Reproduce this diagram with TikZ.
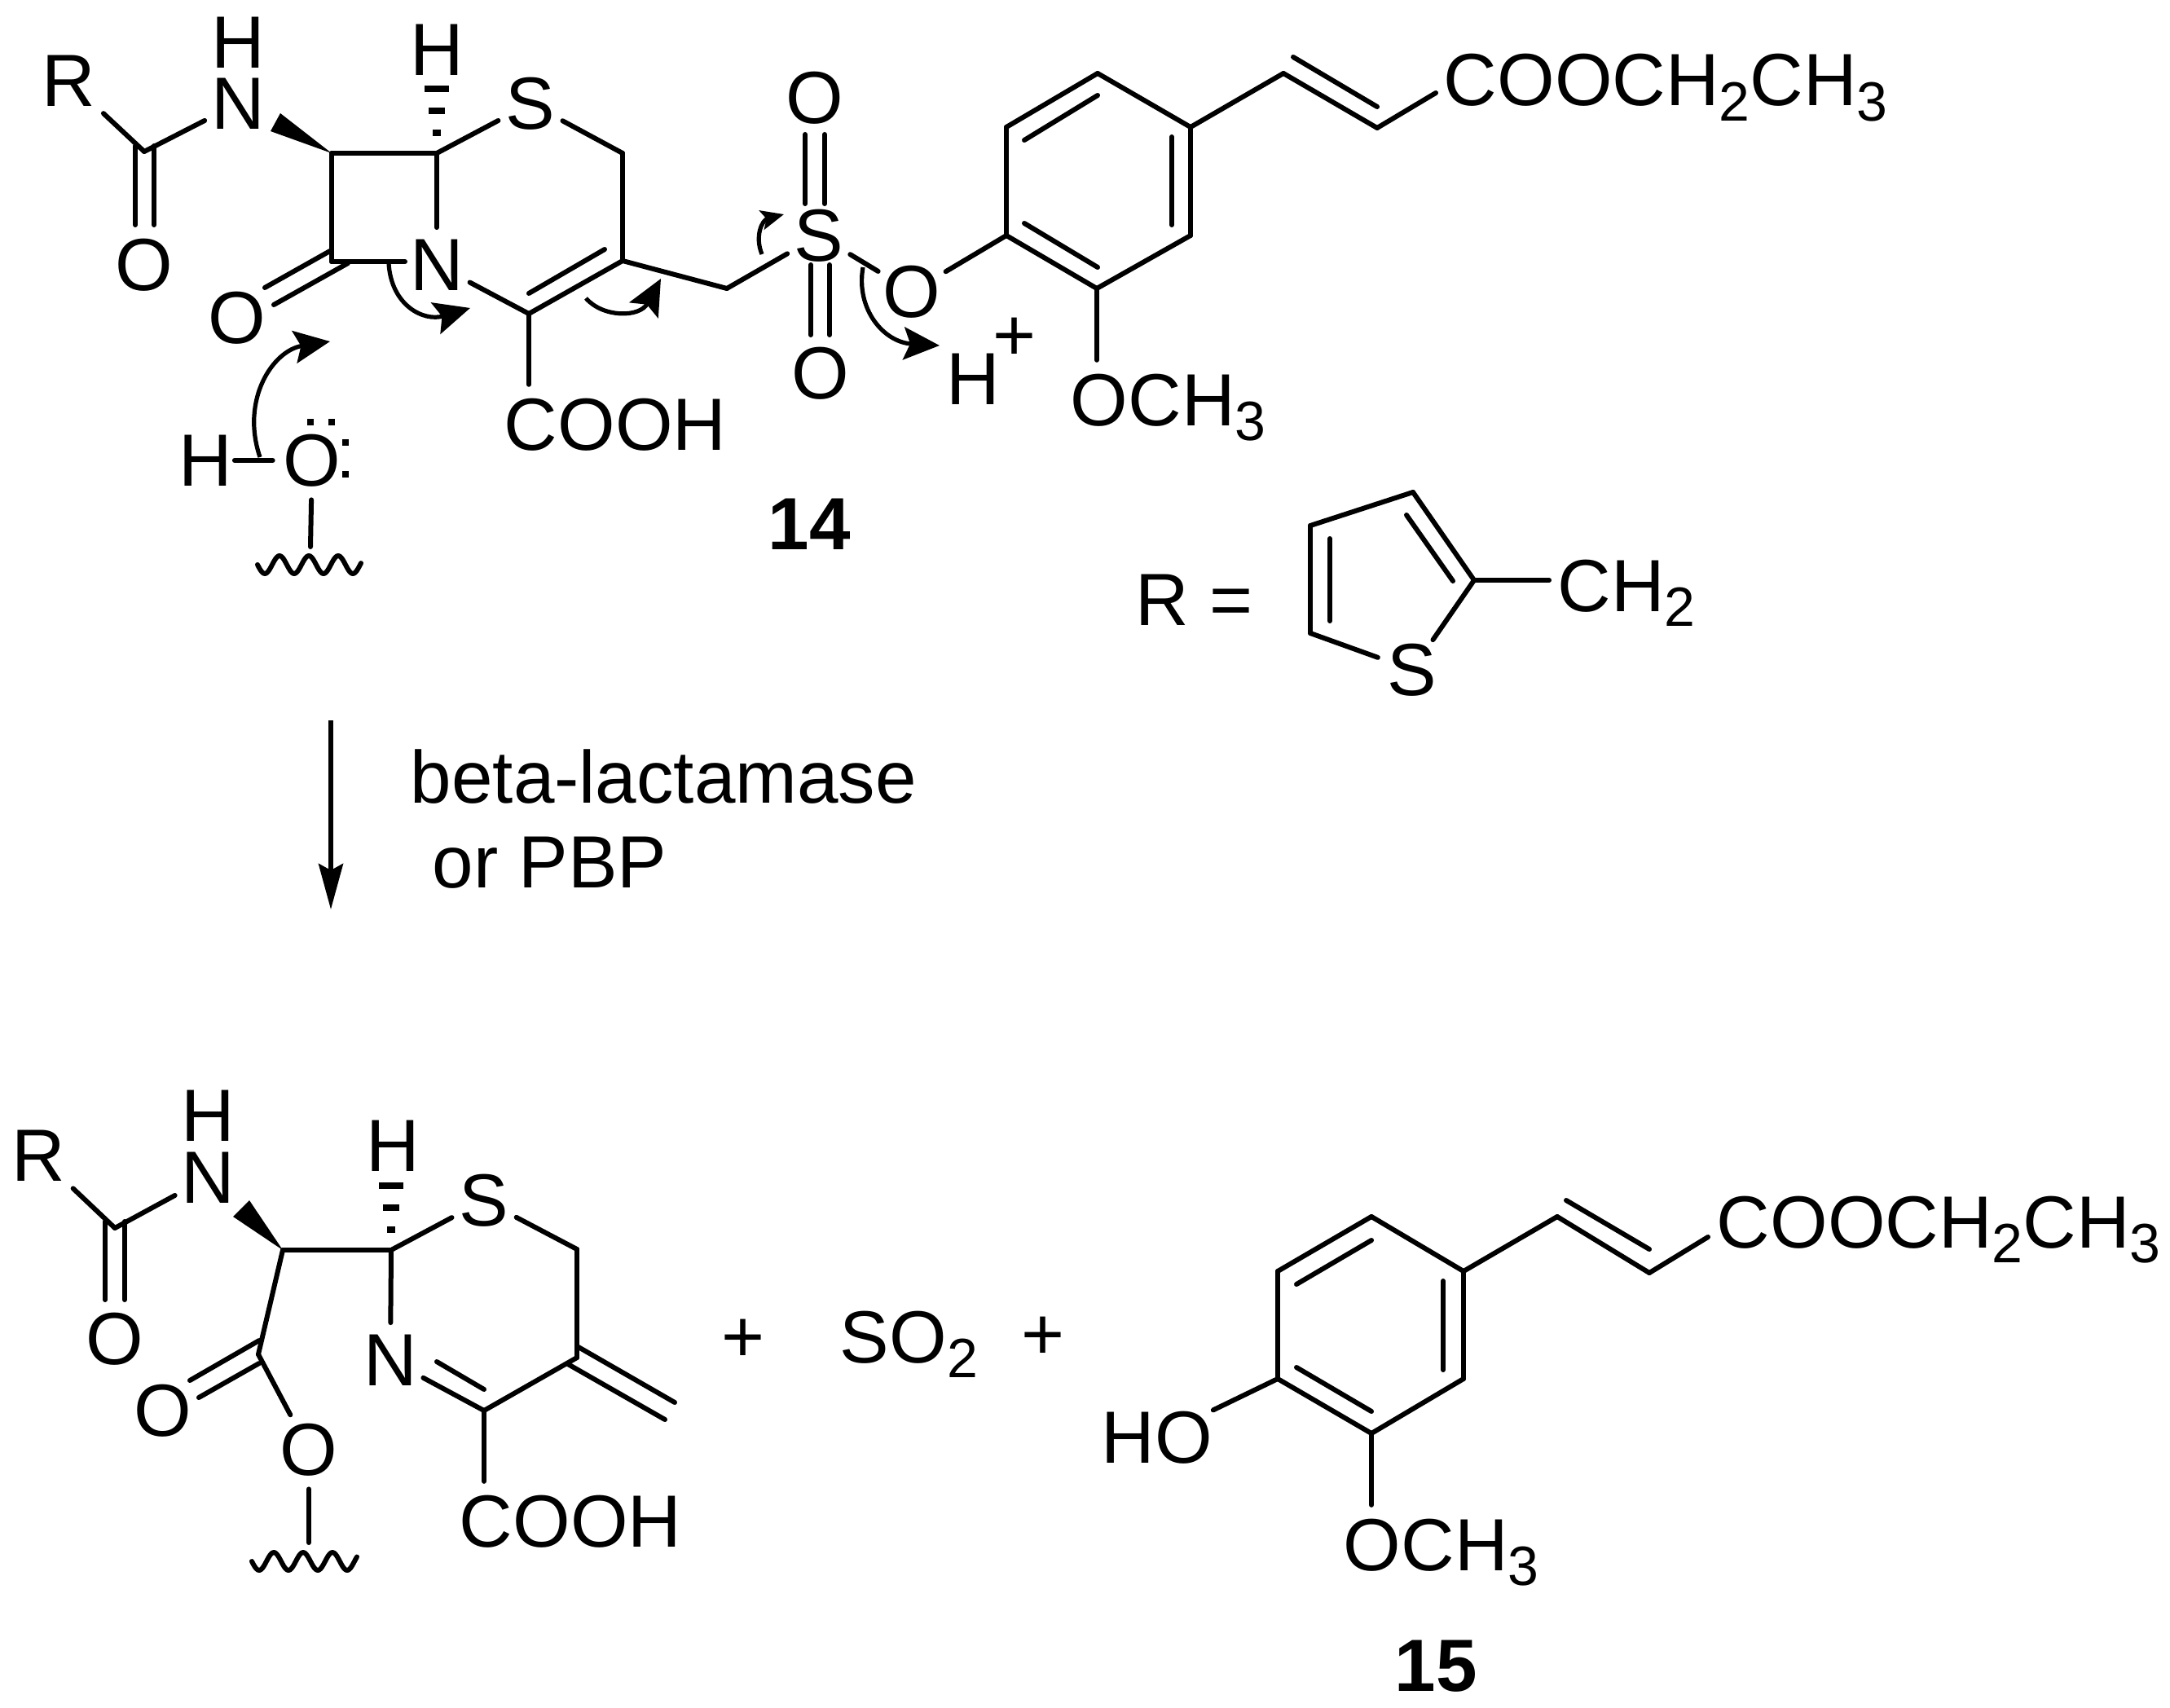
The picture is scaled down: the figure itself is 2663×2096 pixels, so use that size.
\documentclass[tikz,border=0pt]{standalone}
\usepackage{fontspec}
\setmainfont{Liberation Sans}
\usetikzlibrary{arrows.meta}
\newcommand{\atomfont}{\fontsize{22.7}{27}\selectfont}
\newcommand{\subnum}[1]{\raisebox{-4.6pt}{\fontsize{17}{18}\selectfont #1}}
\tikzstyle{atom}=[circle, inner sep=0pt, font=\atomfont]
\tikzstyle{hyd}=[inner sep=0pt, font=\atomfont]
\tikzstyle{lab}=[inner xsep=0pt, inner ysep=4pt, anchor=base west, font=\atomfont]
\tikzstyle{bond}=[line width=1.5pt, line cap=round, line join=round]
\tikzstyle{hash}=[line width=1.8pt]
\tikzstyle{push}=[line width=1.3pt, -{Stealth[length=11pt,width=10pt,inset=2pt]}]
\tikzstyle{pushsmall}=[line width=1.3pt, -{Stealth[length=7pt,width=6pt,inset=1.5pt]}]
\tikzstyle{react}=[line width=1.4pt, -{Stealth[length=14pt,width=7.5pt,inset=2pt]}]

\begin{document}
\begin{tikzpicture}[x=0.25pt, y=-0.25pt]
      \useasboundingbox (0,0) rectangle (2663,2096);
      % carbons and free bond ends
      \foreach \n/\x/\y in {c1/177/186, c2/407/188, c3/536/188, c4/407/321, c5/764/188, c6/764/320, c7/649/385, c8/892/354,
        e1/497/321, p1/1235/289, p2/1235/156, p3/1347/90, p4/1461/156, p5/1461/289, p6/1346/354,
        v1/1575/90, v2/1690/157, e2/1762/114, w1/381/671,
        t1/1734/604, t2/1608/645, t3/1608/777, t4/1809/712,
        b1/141/1507, b2/347/1534, b3/480/1534, b4/708/1533, b5/708/1666, b6/594/1731, b7/317/1662, w2/379/1893,
        q1/1683/1493, q2/1568/1560, q3/1568/1692, q4/1683/1759, q5/1796/1692, q6/1796/1560,
        v3/1911/1493, v4/2024/1562, e3/2096/1518,
        k1/166/179, k2/166/276, k3/189/179, k4/189/276, k5/405/308, k6/325/353, k7/427/323, k8/336/374,
        k9/742/306, k10/649/360, m1/988/165, m2/988/250, m3/1012/165, m4/1012/250,
        m5/995/325, m6/995/411, m7/1018/325, m8/1018/411,
        i1/1257/172, i2/1347/117, i3/1438/168, i4/1438/276, i5/1257/274, i6/1347/328, i7/1587/70, i8/1690/131,
        i9/1726/632, i10/1783/713, i11/1632/661, i12/1632/762,
        g1/129/1499, g2/129/1595, g3/153/1499, g4/153/1595, g5/318/1645, g6/233/1694, g7/318/1673, g8/244/1715,
        g9/536/1671, g10/594/1705, g11/708/1652, g12/828/1721, g13/697/1674, g14/816/1742,
        j1/1591/1576, j2/1683/1522, j3/1771/1572, j4/1771/1681, j5/1591/1678, j6/1683/1732, j7/1922/1473, j8/2024/1533,
        f1/406/884, f2/406/1116}
        \coordinate (\n) at (\x,\y);
      % reactant 14
      \node at (84,99) [atom, minimum size=29pt] (r1) {R};
      \node at (292,127) [atom] (n1) {N};
      \node at (292,52) [hyd] (h1) {H};
      \node at (177,325) [atom] (o1) {O};
      \node at (291,390) [atom] (o2) {O};
      \node at (536,325) [atom] (n2) {N};
      \node at (536,61) [hyd] (h2) {H};
      \node at (651,127) [atom] (s1) {S};
      \node at (618,552) [lab] (cooh1) {COOH};
      \node at (1000,120) [atom] (o3) {O};
      \node at (1007,458) [atom] (o4) {O};
      \node at (1005,289) [atom] (s2) {S};
      \node at (1119,358) [atom] (o5) {O};
      \node at (1194,465) [hyd] (h3) {H};
      \node at (1245,416) [hyd] (plus1) {+};
      \node at (1313,522) [lab] (och1) {OCH\subnum{3}};
      \node at (1771,130) [lab] (ester1) {COOCH\subnum{2}CH\subnum{3}};
      \node at (252,565) [atom] (h4) {H};
      \node at (383,565) [atom] (o6) {O};
      \node at (942,674) [lab, font=\atomfont\bfseries] (num14) {14};
      % R group
      \node at (1393,767) [lab] (rdef) {R =};
      \node at (1733,822) [atom] (s4) {S};
      \node at (1911,750) [lab] (ch2) {CH\subnum{2}};
      % reagent
      \node at (503,985) [lab] (enz1) {beta-lactamase};
      \node at (530,1089) [lab] (enz2) {or PBP};
      % products
      \node at (47,1418) [atom, minimum size=29pt] (r2) {R};
      \node at (255,1445) [atom] (n3) {N};
      \node at (255,1369) [hyd] (h5) {H};
      \node at (141,1643) [atom] (o7) {O};
      \node at (482,1406) [hyd] (h6) {H};
      \node at (594,1473) [atom] (s3) {S};
      \node at (479,1669) [atom] (n4) {N};
      \node at (200,1731) [atom] (o8) {O};
      \node at (379,1779) [atom] (o9) {O};
      \node at (563,1898) [lab] (cooh2) {COOH};
      \node at (912,1645) [hyd] (plus2) {+};
      \node at (1030,1672) [lab] (so2) {SO\subnum{2}};
      \node at (1280,1642) [hyd] (plus3) {+};
      \node at (1351,1795) [lab] (ho) {HO};
      \node at (1648,1927) [lab] (och2) {OCH\subnum{3}};
      \node at (2106,1531) [lab] (ester2) {COOCH\subnum{2}CH\subnum{3}};
      \node at (1711,2075) [lab, font=\atomfont\bfseries] (num15) {15};
      %
      \foreach \a/\b in {r1/c1, c1/n1, c2/c3, c2/c4, c4/e1, c3/n2, c3/s1, s1/c5, c5/c6, c6/c7, c7/n2, c6/c8, c8/s2,
        k1/k2, k3/k4, k5/k6, k7/k8, k9/k10, m1/m2, m3/m4, m5/m6, m7/m8, s2/o5, o5/p1,
        p1/p2, p2/p3, p3/p4, p4/p5, p5/p6, p6/p1, i1/i2, i3/i4, i5/i6, p4/v1, v1/v2, v2/e2, i7/i8, o6/w1,
        t1/t2, t2/t3, t3/s4, s4/t4, t4/t1, i9/i10, i11/i12,
        r2/b1, b1/n3, b2/b3, b3/n4, b3/s3, s3/b4, b4/b5, b5/b6, b6/n4, b2/b7, b7/o9, o9/w2,
        g1/g2, g3/g4, g5/g6, g7/g8, g9/g10, g11/g12, g13/g14,
        q1/q2, q2/q3, q3/q4, q4/q5, q5/q6, q6/q1, j1/j2, j3/j4, j5/j6, q6/v3, v3/v4, v4/e3, j7/j8, q3/ho}
        \draw[bond] (\a) -- (\b);
      \draw[bond] (c7) -- (c7 |- cooh1.north);
      \draw[bond] (p6) -- (p6 |- och1.north);
      \draw[bond, shorten >=2.5pt] (t4) -- (t4 -| ch2.west);
      \draw[bond] (b6) -- (b6 |- cooh2.north);
      \draw[bond] (q4) -- (q4 |- och2.north);
      \draw[bond, shorten <=-2.5pt] (h4) -- (o6);
      % wedges and hashes
      \fill (c2) -- (344,139) -- (332,161) -- cycle;
      \fill (b2) -- (306,1473) -- (286,1493) -- cycle;
      \foreach \d/\w in {79/15, 52/10, 25/5} {
        \draw[hash] ([shift={(-\w,-\d)}]c3) -- ([shift={(\w,-\d)}]c3);
        \draw[hash] ([shift={(-\w,-\d)}]b3) -- ([shift={(\w,-\d)}]b3);
      }
      % lone pairs and wavy ends
      \foreach \x/\y in {381/518, 407/518, 424/543, 424/582}
        \fill (\x-4,\y-4) rectangle (\x+4,\y+4);
      \draw[bond] plot[domain=316:443, samples=70, smooth] (\x, {693+11*cos(10*(\x-325))});
      \draw[bond] plot[domain=309:438, samples=70, smooth] (\x, {1916+11*cos(10*(\x-318))});
      % electron pushing
      \draw[push] (477,323) .. controls (480,375) and (520,395) .. (577,378);
      \draw[push] (719,366) .. controls (740,390) and (785,390) .. (811,342);
      \draw[push] (319,561) .. controls (295,490) and (335,430) .. (405,419);
      \draw[pushsmall] (935,312) .. controls (926,290) and (935,270) .. (962,263);
      \draw[push] (1059,328) .. controls (1050,380) and (1085,420) .. (1153,424);
      \draw[react] (f1) -- (f2);
\end{tikzpicture}
\end{document}
